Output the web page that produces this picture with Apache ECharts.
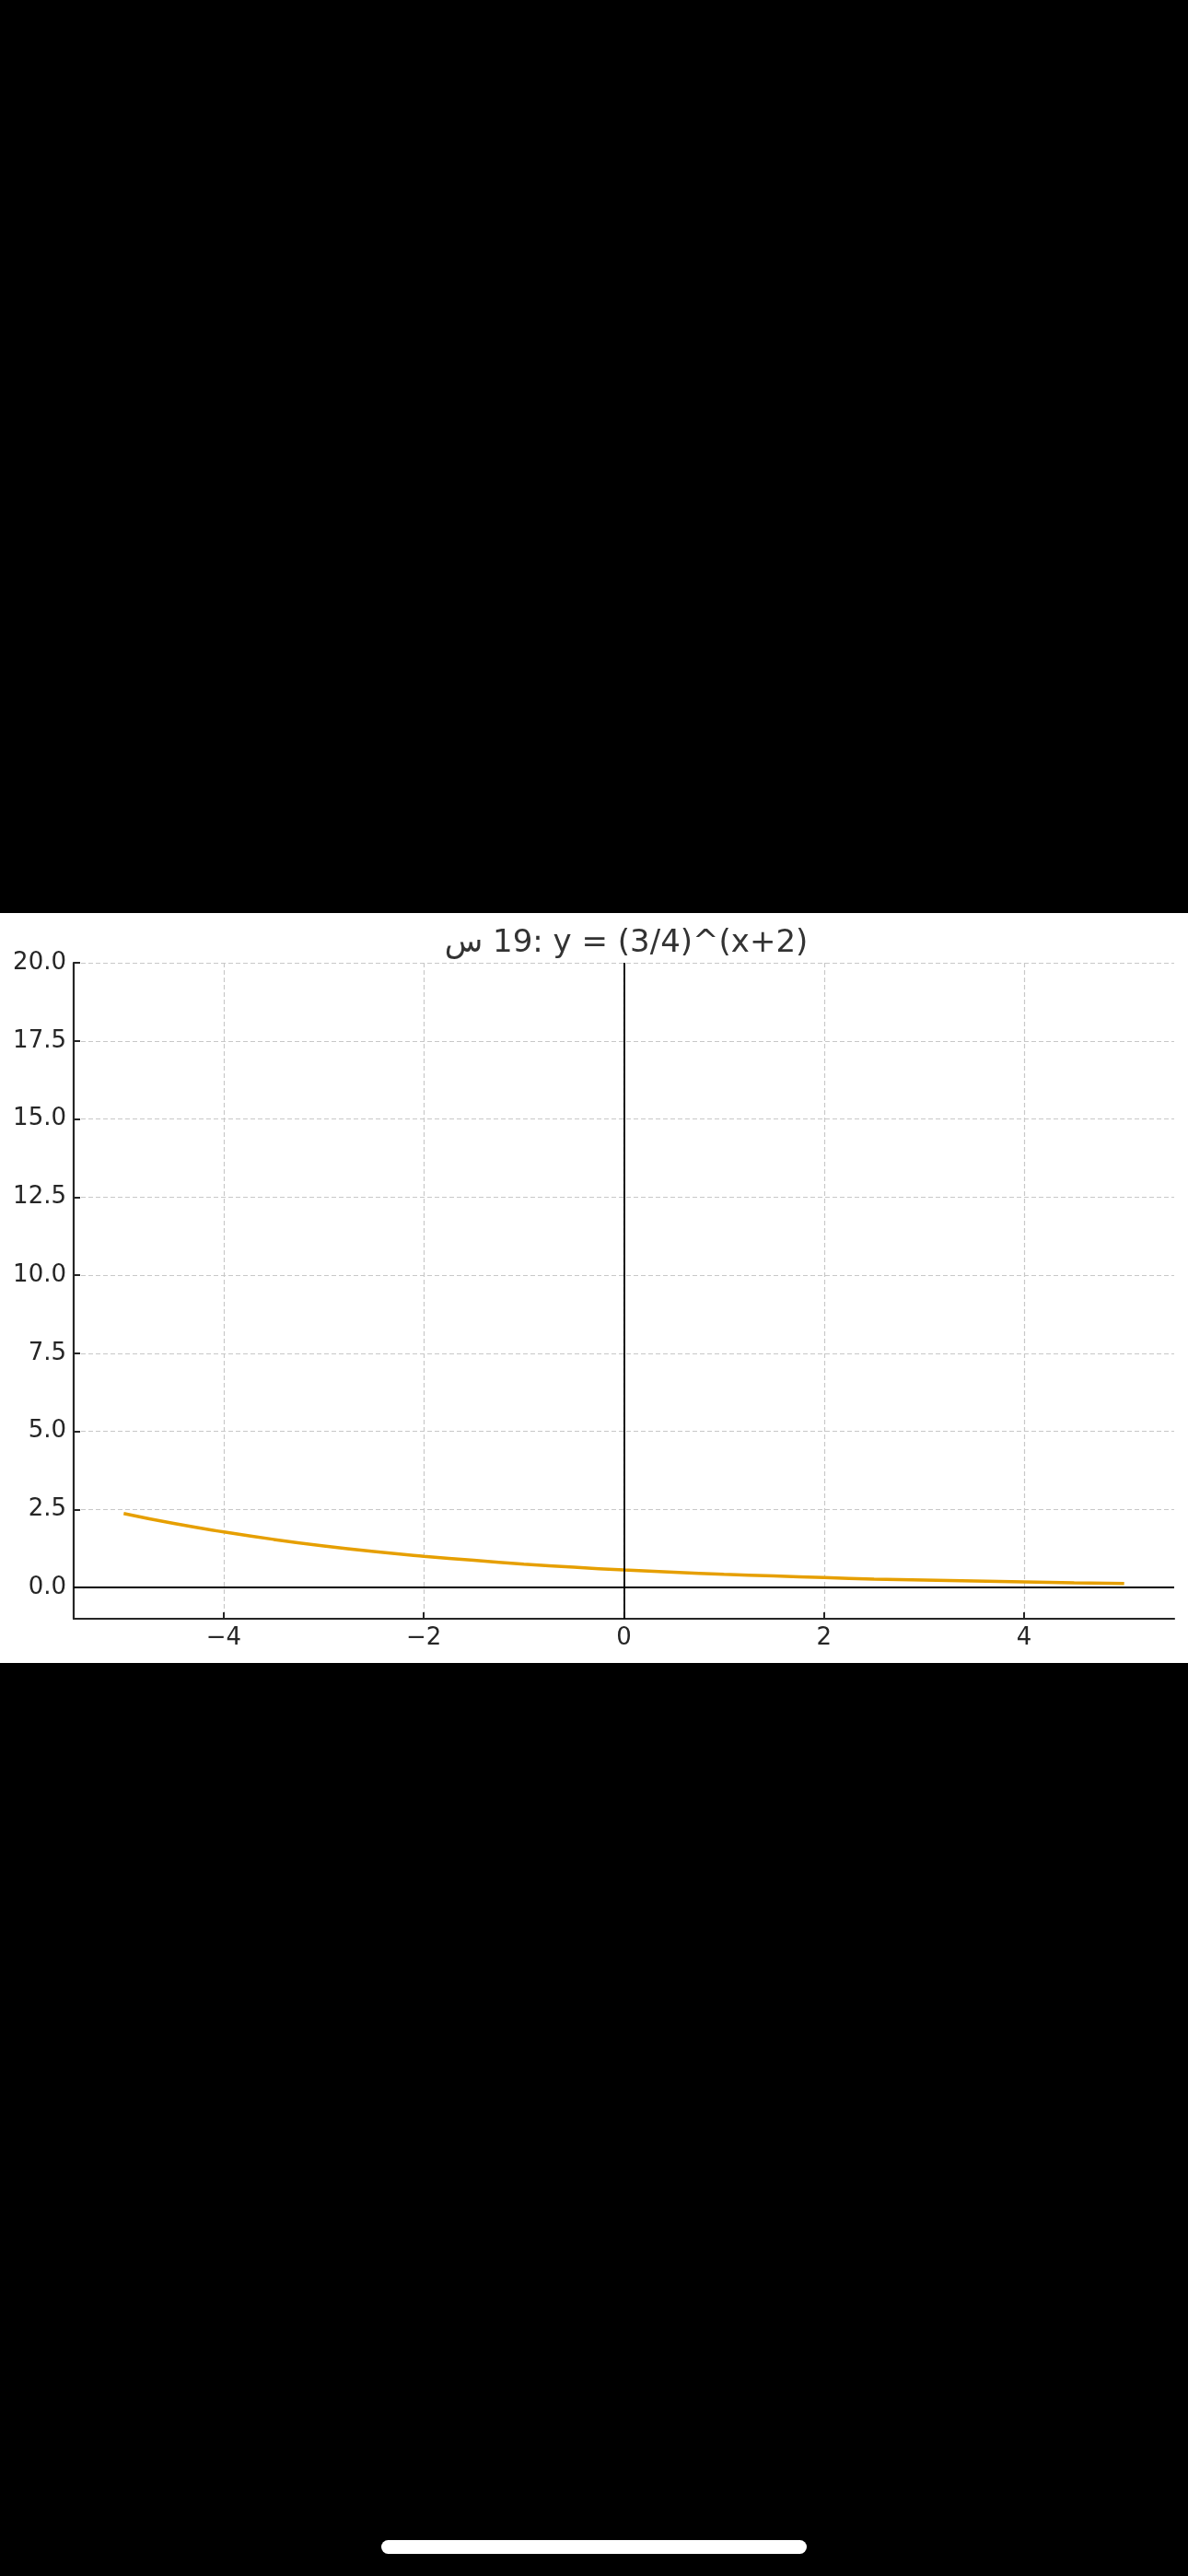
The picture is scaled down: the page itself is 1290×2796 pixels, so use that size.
<!DOCTYPE html>
<html>
<head>
<meta charset="utf-8">
<script src="https://cdn.jsdelivr.net/npm/echarts@6/dist/echarts.min.js"></script>
<style>
    html, body { margin: 0; padding: 0; background: #000; }
    body { width: 1290px; height: 2796px; position: relative; overflow: hidden; }
    #chartBox { position: absolute; left: 0; top: 991px; width: 1290px; height: 814px; background: #fff; }
    #homeBar { position: absolute; left: 414px; top: 2757px; width: 462px; height: 15px; border-radius: 8px; background: #fff; }
</style>
</head>
<body>
<div id="chartBox"></div>
<div id="homeBar"></div>
<script>
// values, y = (3/4)^(x+2)
const xValues = [-5, -4.5, -4, -3.5, -3, -2.5, -2, -1.5, -1, -0.5, 0, 0.5, 1, 1.5, 2, 2.5, 3, 3.5, 4, 4.5, 5];
const yValues = [2.37, 2.05, 1.78, 1.54, 1.33, 1.15, 1.00, 0.87, 0.75, 0.65, 0.56, 0.49, 0.42, 0.37, 0.32, 0.27, 0.24, 0.21, 0.18, 0.15, 0.13];
const xTicks = [-4, -2, 0, 2, 4];
const yTicks = [0, 2.5, 5, 7.5, 10, 12.5, 15, 17.5, 20];
const titleText = 'س\u200E 19: y = (3/4)^(x+2)';

var chartDom = document.getElementById("chartBox");
var myChart = echarts.init(chartDom);

const textColor = '#262626';
const fontFamily = '"DejaVu Sans", sans-serif';

let option = {
    animation: false,
    title: {
        text: titleText,
        left: 675,
        textAlign: 'center',
        top: 11,
        textStyle: { color: '#333', fontSize: 34, fontWeight: 'normal', fontFamily: fontFamily }
    },
    grid: { left: 80, right: 15, top: 54, bottom: 48 },
    xAxis: {
        type: 'value',
        min: -5.5,
        max: 5.5,
        axisLine: { show: true, onZero: false, lineStyle: { color: textColor, width: 2.2 } },
        axisTick: { show: true, inside: true, length: 7, customValues: xTicks, lineStyle: { color: textColor, width: 2 } },
        axisLabel: {
            customValues: xTicks,
            color: textColor, fontSize: 26, fontFamily: fontFamily, margin: 8,
            formatter: function (v) { return v < 0 ? '\u2212' + Math.abs(v) : String(v); }
        },
        splitLine: { show: true, lineStyle: { color: '#c8c8c8', width: 1.2, type: [5, 3] } }
    },
    yAxis: {
        type: 'value',
        min: -1,
        max: 20,
        axisLine: { show: true, onZero: false, lineStyle: { color: textColor, width: 2.2 } },
        axisTick: { show: true, inside: true, length: 7, customValues: yTicks, lineStyle: { color: textColor, width: 2 } },
        axisLabel: {
            customValues: yTicks,
            color: textColor, fontSize: 26, fontFamily: fontFamily, margin: 8,
            formatter: function (v) { return v.toFixed(1); }
        },
        splitLine: { show: true, lineStyle: { color: '#c8c8c8', width: 1.2, type: [5, 3] } }
    },
    series: [
        {
            type: 'line',
            data: xValues.map((x, i) => [x, yValues[i]]),
            smooth: true,
            symbol: 'none',
            lineStyle: { color: '#E69F00', width: 3.5 },
            z: 3,
            markLine: {
                silent: true,
                symbol: 'none',
                label: { show: false },
                lineStyle: { color: '#000', width: 1.8, type: 'solid' },
                data: [{ xAxis: 0 }, { yAxis: 0 }]
            }
        }
    ]
};
myChart.setOption(option);
</script>
</body>
</html>
